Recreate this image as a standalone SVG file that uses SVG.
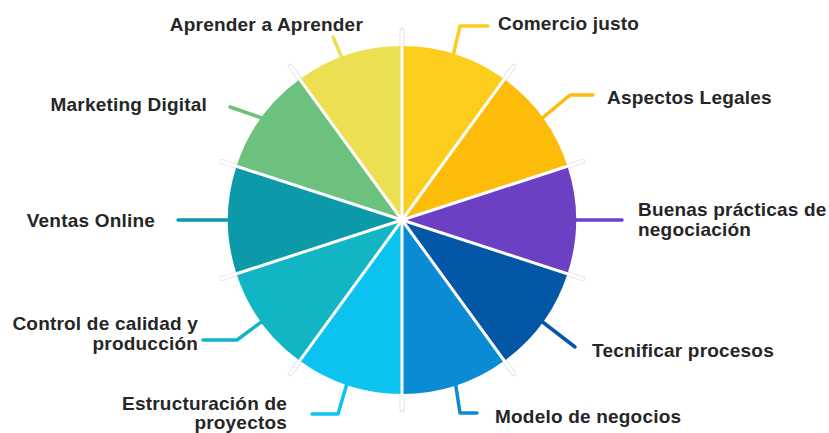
<svg xmlns="http://www.w3.org/2000/svg" width="829" height="433" viewBox="0 0 829 433">
<style>
.lbl{font-family:"Liberation Sans",Arial,sans-serif;font-weight:bold;font-size:19px;fill:#262626;letter-spacing:0.2px}
.end{text-anchor:end}
.ld{fill:none;stroke-width:3.5;stroke-linecap:round;stroke-linejoin:round}
.tick{stroke:#e6e6e6;stroke-width:5;stroke-linecap:round}
.sep{stroke:#ffffff;stroke-width:3;stroke-linecap:round}
</style>
<rect width="829" height="433" fill="#ffffff"/>
<g id="connectors">
<polyline class="ld" stroke="#FDCD1E" points="453,56 460,26 488,26"/>
<polyline class="ld" stroke="#FDBB0A" points="540,120 570,95 593,95"/>
<polyline class="ld" stroke="#6C40C2" points="570,220 622,220"/>
<polyline class="ld" stroke="#0456A6" points="540,320 575,347"/>
<polyline class="ld" stroke="#0A8BD3" points="455,380 460,413 477,413"/>
<polyline class="ld" stroke="#0CC3F0" points="348,380 338,414 312,414"/>
<polyline class="ld" stroke="#12B5C4" points="264,320 237,340 203,340"/>
<polyline class="ld" stroke="#0C99A8" points="235,220 178,220"/>
<polyline class="ld" stroke="#6BC17D" points="262,118 230,107"/>
<polyline class="ld" stroke="#EDDF52" points="342,58 333,37"/>
</g>
<g id="ticks">
<line class="tick" x1="402" y1="50" x2="402" y2="30"/>
<line class="tick" x1="504.28" y1="79.23" x2="513.68" y2="66.29"/>
<line class="tick" x1="567.49" y1="166.23" x2="582.71" y2="161.29"/>
<line class="tick" x1="567.49" y1="273.77" x2="582.71" y2="278.71"/>
<line class="tick" x1="504.28" y1="360.77" x2="513.68" y2="373.71"/>
<line class="tick" x1="402" y1="390" x2="402" y2="410"/>
<line class="tick" x1="299.72" y1="360.77" x2="290.32" y2="373.71"/>
<line class="tick" x1="236.51" y1="273.77" x2="221.29" y2="278.71"/>
<line class="tick" x1="236.51" y1="166.23" x2="221.29" y2="161.29"/>
<line class="tick" x1="299.72" y1="79.23" x2="290.32" y2="66.29"/>
</g>
<g id="node-comercio"><path d="M402,220 L402,46 A174,174 0 0 1 504.28,79.23 Z" fill="#FDCD1E"/><text class="lbl" x="498" y="30">Comercio justo</text></g>
<g id="node-aspectos"><path d="M402,220 L504.28,79.23 A174,174 0 0 1 567.49,166.23 Z" fill="#FDBB0A"/><text class="lbl" x="607" y="104">Aspectos Legales</text></g>
<g id="node-buenas"><path d="M402,220 L567.49,166.23 A174,174 0 0 1 567.49,273.77 Z" fill="#6C40C2"/><text class="lbl" x="638" y="216">Buenas prácticas de</text><text class="lbl" x="638" y="236">negociación</text></g>
<g id="node-tecnificar"><path d="M402,220 L567.49,273.77 A174,174 0 0 1 504.28,360.77 Z" fill="#0456A6"/><text class="lbl" x="592" y="357">Tecnificar procesos</text></g>
<g id="node-modelo"><path d="M402,220 L504.28,360.77 A174,174 0 0 1 402,394 Z" fill="#0A8BD3"/><text class="lbl" x="495" y="423">Modelo de negocios</text></g>
<g id="node-estructuracion"><path d="M402,220 L402,394 A174,174 0 0 1 299.72,360.77 Z" fill="#0CC3F0"/><text class="lbl end" x="287" y="410">Estructuración de</text><text class="lbl end" x="287" y="429">proyectos</text></g>
<g id="node-control"><path d="M402,220 L299.72,360.77 A174,174 0 0 1 236.51,273.77 Z" fill="#12B5C4"/><text class="lbl end" x="198" y="330">Control de calidad y</text><text class="lbl end" x="198" y="350">producción</text></g>
<g id="node-ventas"><path d="M402,220 L236.51,273.77 A174,174 0 0 1 236.51,166.23 Z" fill="#0C99A8"/><text class="lbl end" x="155" y="227">Ventas Online</text></g>
<g id="node-marketing"><path d="M402,220 L236.51,166.23 A174,174 0 0 1 299.72,79.23 Z" fill="#6BC17D"/><text class="lbl end" x="207" y="111">Marketing Digital</text></g>
<g id="node-aprender"><path d="M402,220 L299.72,79.23 A174,174 0 0 1 402,46 Z" fill="#EDDF52"/><text class="lbl end" x="363" y="31">Aprender a Aprender</text></g>
<g id="separators">
<line class="sep" x1="402" y1="220" x2="402" y2="31"/>
<line class="sep" x1="402" y1="220" x2="513.68" y2="66.29"/>
<line class="sep" x1="402" y1="220" x2="582.71" y2="161.29"/>
<line class="sep" x1="402" y1="220" x2="582.71" y2="278.71"/>
<line class="sep" x1="402" y1="220" x2="513.68" y2="373.71"/>
<line class="sep" x1="402" y1="220" x2="402" y2="409"/>
<line class="sep" x1="402" y1="220" x2="290.32" y2="373.71"/>
<line class="sep" x1="402" y1="220" x2="221.29" y2="278.71"/>
<line class="sep" x1="402" y1="220" x2="221.29" y2="161.29"/>
<line class="sep" x1="402" y1="220" x2="290.32" y2="66.29"/>
<circle cx="402" cy="220" r="4" fill="#ffffff"/>
</g>
</svg>
